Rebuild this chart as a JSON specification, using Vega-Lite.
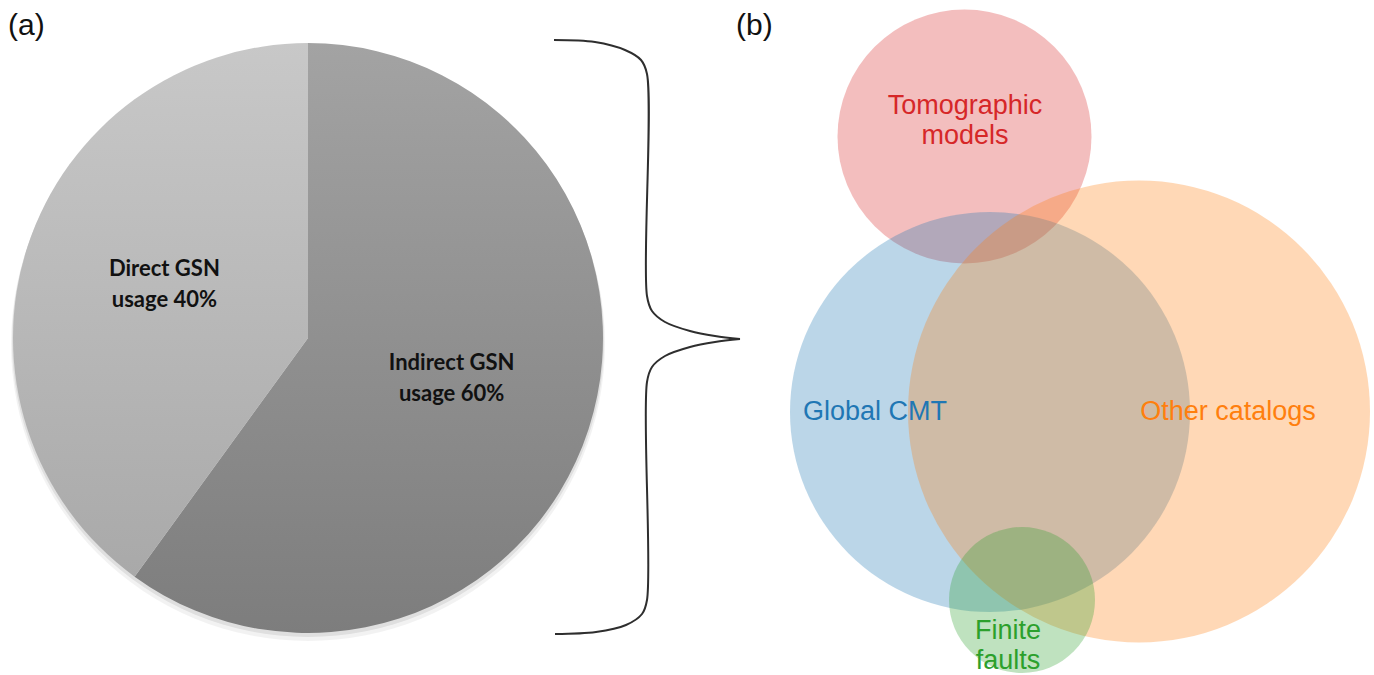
{
  "$schema": "https://vega.github.io/schema/vega-lite/v6.json",
  "width": 1374,
  "height": 675,
  "autosize": {"type": "fit", "contains": "padding"},
  "padding": 0,
  "background": "#ffffff",
  "config": {"view": {"stroke": null}},
  "datasets": {
    "pie": [
      {"slice": "Indirect GSN", "share": 60, "ord": 1, "label": "Indirect GSN\nusage 60%"},
      {"slice": "Direct GSN", "share": 40, "ord": 2, "label": "Direct GSN\nusage 40%"}
    ],
    "venn": [
      {"set": "Tomographic models", "x": 964.5, "y": 136.5, "r": 127},
      {"set": "Global CMT", "x": 990, "y": 412, "r": 200},
      {"set": "Other catalogs", "x": 1139, "y": 411.5, "r": 231},
      {"set": "Finite faults", "x": 1022, "y": 600, "r": 73}
    ],
    "vennLabels": [
      {"set": "Tomographic models", "text": "Tomographic\nmodels", "x": 965, "y": 114},
      {"set": "Global CMT", "text": "Global CMT", "x": 875, "y": 420},
      {"set": "Other catalogs", "text": "Other catalogs", "x": 1228, "y": 420},
      {"set": "Finite faults", "text": "Finite\nfaults", "x": 1008, "y": 639}
    ],
    "panels": [
      {"text": "(a)", "x": 8, "y": 35},
      {"text": "(b)", "x": 736, "y": 35}
    ],
    "brace": [
      {"part": "top", "i": 0, "x": 554, "y": 40},
      {"part": "top", "i": 1, "x": 595, "y": 42},
      {"part": "top", "i": 2, "x": 625, "y": 50},
      {"part": "top", "i": 3, "x": 641, "y": 60},
      {"part": "top", "i": 4, "x": 647, "y": 74},
      {"part": "top", "i": 5, "x": 647, "y": 296},
      {"part": "top", "i": 6, "x": 652, "y": 311},
      {"part": "top", "i": 7, "x": 665, "y": 322},
      {"part": "top", "i": 8, "x": 690, "y": 331},
      {"part": "top", "i": 9, "x": 715, "y": 336},
      {"part": "top", "i": 10, "x": 740, "y": 339},
      {"part": "bottom", "i": 0, "x": 740, "y": 339},
      {"part": "bottom", "i": 1, "x": 715, "y": 342},
      {"part": "bottom", "i": 2, "x": 690, "y": 347},
      {"part": "bottom", "i": 3, "x": 665, "y": 356},
      {"part": "bottom", "i": 4, "x": 652, "y": 367},
      {"part": "bottom", "i": 5, "x": 647, "y": 382},
      {"part": "bottom", "i": 6, "x": 647, "y": 600},
      {"part": "bottom", "i": 7, "x": 642, "y": 614},
      {"part": "bottom", "i": 8, "x": 626, "y": 625},
      {"part": "bottom", "i": 9, "x": 596, "y": 632},
      {"part": "bottom", "i": 10, "x": 555, "y": 634}
    ]
  },
  "layer": [
    {
      "data": {"values": [{}]},
      "mark": {"type": "arc", "outerRadius": 297, "fill": "#000000", "opacity": 0.05},
      "encoding": {
        "x": {"datum": 308, "type": "quantitative", "scale": {"domain": [0, 1374], "nice": false, "zero": false}, "axis": null},
        "y": {"datum": 344, "type": "quantitative", "scale": {"domain": [0, 675], "reverse": true, "nice": false, "zero": false}, "axis": null}
      }
    },
    {
      "data": {"values": [{}]},
      "mark": {"type": "arc", "outerRadius": 296, "fill": "#000000", "opacity": 0.08},
      "encoding": {
        "x": {"datum": 308, "type": "quantitative", "axis": null},
        "y": {"datum": 341, "type": "quantitative", "axis": null}
      }
    },
    {
      "data": {"name": "pie"},
      "mark": {"type": "arc", "outerRadius": 295},
      "encoding": {
        "x": {"datum": 308, "type": "quantitative", "axis": null},
        "y": {"datum": 338, "type": "quantitative", "axis": null},
        "theta": {"field": "share", "type": "quantitative", "stack": true},
        "order": {"field": "ord", "type": "quantitative"},
        "detail": {"field": "slice", "type": "nominal"},
        "fill": {
          "condition": {
            "test": "datum.ord === 1",
            "value": {"gradient": "linear", "x1": 0, "y1": 0, "x2": 0, "y2": 1, "stops": [{"offset": 0, "color": "#a3a3a3"}, {"offset": 1, "color": "#7d7d7d"}]}
          },
          "value": {"gradient": "linear", "x1": 0, "y1": 0, "x2": 0, "y2": 1, "stops": [{"offset": 0, "color": "#c8c8c8"}, {"offset": 1, "color": "#a9a9a9"}]}
        }
      }
    },
    {
      "data": {"name": "pie"},
      "mark": {"type": "text", "radius": 151, "dy": -22, "align": "center", "baseline": "middle", "lineBreak": "\n", "lineHeight": 31, "font": "Lato", "fontWeight": "bold", "fontSize": 22, "color": "#111111"},
      "encoding": {
        "x": {"datum": 308, "type": "quantitative", "axis": null},
        "y": {"datum": 338, "type": "quantitative", "axis": null},
        "theta": {"field": "share", "type": "quantitative", "stack": true},
        "order": {"field": "ord", "type": "quantitative"},
        "detail": {"field": "slice", "type": "nominal"},
        "text": {"field": "label", "type": "nominal"}
      }
    },
    {
      "data": {"name": "brace"},
      "mark": {"type": "line", "interpolate": "catmull-rom", "stroke": "#2e2e2e", "strokeWidth": 2},
      "encoding": {
        "x": {"field": "x", "type": "quantitative", "axis": null},
        "y": {"field": "y", "type": "quantitative", "axis": null},
        "detail": {"field": "part", "type": "nominal"},
        "order": {"field": "i", "type": "quantitative"}
      }
    },
    {
      "data": {"name": "venn"},
      "mark": {"type": "point", "shape": "circle", "filled": true, "opacity": 0.3, "strokeWidth": 0},
      "encoding": {
        "x": {"field": "x", "type": "quantitative", "axis": null},
        "y": {"field": "y", "type": "quantitative", "axis": null},
        "size": {"field": "r", "type": "quantitative", "scale": {"type": "pow", "exponent": 2, "domain": [0, 250], "range": [0, 250000]}, "legend": null},
        "color": {"field": "set", "type": "nominal", "scale": {"domain": ["Tomographic models", "Global CMT", "Other catalogs", "Finite faults"], "range": ["#d62728", "#1f77b4", "#ff7f0e", "#2ca02c"]}, "legend": null}
      }
    },
    {
      "data": {"name": "vennLabels"},
      "mark": {"type": "text", "align": "center", "baseline": "alphabetic", "lineBreak": "\n", "lineHeight": 30, "font": "Liberation Sans", "fontSize": 27},
      "encoding": {
        "x": {"field": "x", "type": "quantitative", "axis": null},
        "y": {"field": "y", "type": "quantitative", "axis": null},
        "text": {"field": "text", "type": "nominal"},
        "color": {"field": "set", "type": "nominal", "legend": null}
      }
    },
    {
      "data": {"name": "panels"},
      "mark": {"type": "text", "align": "left", "baseline": "alphabetic", "font": "Liberation Sans", "fontSize": 30, "color": "#111111"},
      "encoding": {
        "x": {"field": "x", "type": "quantitative", "axis": null},
        "y": {"field": "y", "type": "quantitative", "axis": null},
        "text": {"field": "text", "type": "nominal"}
      }
    }
  ]
}
